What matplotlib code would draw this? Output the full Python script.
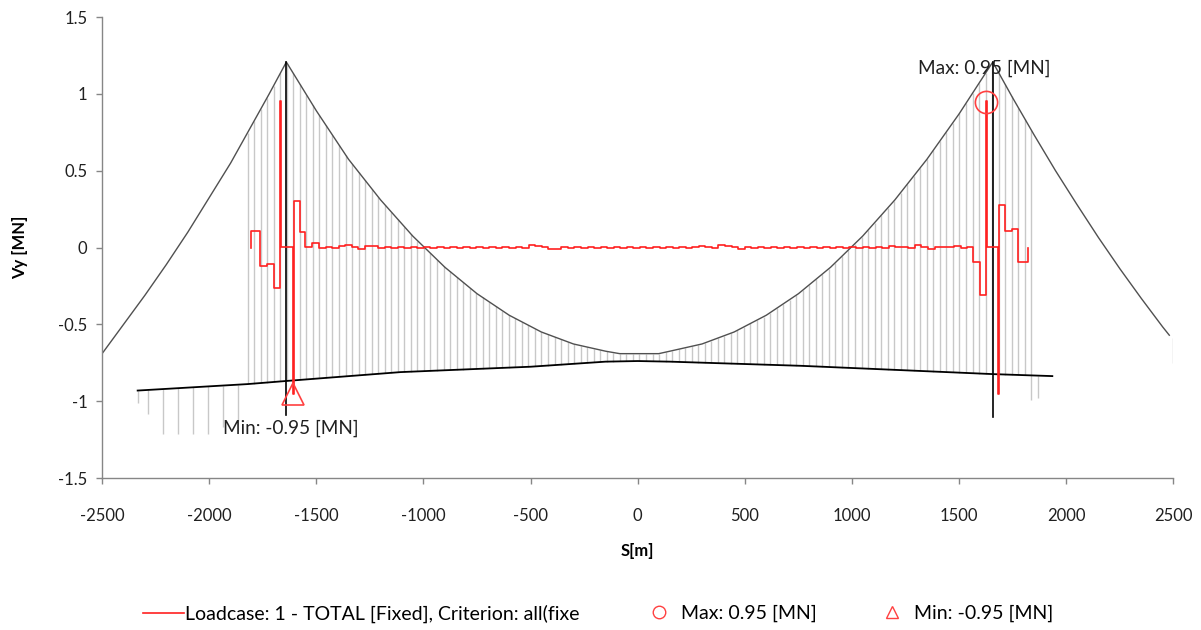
import numpy as np
import matplotlib
matplotlib.use("Agg")
import matplotlib.pyplot as plt
from matplotlib.lines import Line2D

plt.rcParams['font.family'] = ['Lato', 'DejaVu Sans']
plt.rcParams['axes.unicode_minus'] = False

# ---- bridge geometry (S in m, drawn on the Vy scale) ----
# main cable, back spans included, tower tops shared
cable_x = [-2500, -2400, -2300, -2200, -2100, -2000, -1900, -1800, -1720, -1640,
           -1500, -1350, -1200, -1050, -900, -750, -600, -450, -300, -150, -84,
           98, 150, 300, 450, 600, 750, 900, 1050, 1200, 1350, 1500, 1657,
           1750, 1850, 1950, 2050, 2150, 2250, 2350, 2450, 2481]
cable_y = [-0.69, -0.50, -0.31, -0.11, 0.10, 0.325, 0.55, 0.80, 1.00, 1.207,
           0.89, 0.575, 0.31, 0.075, -0.128, -0.30, -0.44, -0.549, -0.627, -0.674, -0.69,
           -0.69, -0.674, -0.627, -0.549, -0.44, -0.30, -0.128, 0.075, 0.31, 0.575, 0.87, 1.207,
           0.974, 0.733, 0.50, 0.28, 0.066, -0.137, -0.33, -0.516, -0.57]

# deck profile
deck_x = [-2334, -1821, -1643, -1107, -500, -150, 0, 150, 761, 1227, 1657, 1935]
deck_y = [-0.93, -0.888, -0.868, -0.81, -0.775, -0.742, -0.738, -0.742, -0.769, -0.797, -0.823, -0.836]

# hangers: evenly spaced between the outermost ones
hanger_first = -1821
hanger_last = 1837
hanger_count = 121

# short posts below the deck
post_x = [-2334, -2287, -2217, -2147, -2077, -2007, -1937, -1867, 1837, 1868]
post_bottom = [-1.01, -1.08, -1.21, -1.21, -1.21, -1.21, -1.17, -1.13, -0.99, -0.98]

# anchor post at the right end
anchor_x = 2500
anchor_y = [-0.59, -0.75]

# towers
tower_x = [-1640, 1657]
tower_top = 1.207
tower_bottom = [-1.09, -1.10]

# ---- shear force Vy [MN], piecewise constant ----
left_edges = [-1806, -1762, -1728, -1697, -1669, -1666, -1611, -1606,
              -1577, -1554, -1518]
left_vals = [0.109, -0.118, -0.110, -0.265, 0.955, 0.005, -0.950, 0.305,
             0.103, 0.005, 0.030]

mid_start = -1487
mid_end = 1538
mid_vals = [0.000, 0.006, 0.000, 0.010, 0.016, 0.004, -0.008, 0.008, 0.008, -0.004,
            0.004, 0.000, 0.006, 0.000, 0.006, 0.000, 0.006, 0.000, 0.006, 0.000,
            0.006, 0.000, 0.006, 0.000, 0.006, 0.000, 0.006, 0.000, 0.006, 0.000,
            0.006, 0.000, 0.016, 0.012, 0.004, -0.008, -0.010, 0.006, 0.000, 0.006,
            0.000, 0.006, 0.000, 0.006, 0.000, 0.006, 0.000, 0.006, 0.000, 0.006,
            0.000, 0.006, 0.000, 0.006, 0.000, 0.006, 0.000, 0.006, 0.010, 0.006,
            0.000, 0.016, 0.010, 0.002, -0.010, 0.006, 0.000, 0.006, 0.000, 0.006,
            0.000, 0.006, 0.000, 0.006, 0.000, 0.006, 0.000, 0.006, 0.000, 0.006,
            0.000, 0.006, 0.000, 0.006, 0.000, 0.006, 0.000, 0.010, 0.004, 0.006,
            0.000, 0.016, 0.006, -0.008, 0.002, 0.006, 0.004, 0.008, 0.000]

right_edges = [1538, 1566, 1597, 1627, 1630, 1681, 1686, 1714, 1748, 1774, 1821]
right_vals = [0.006, -0.096, -0.310, 0.955, 0.005, -0.950, 0.277, 0.107, 0.118, -0.096]

max_s, max_v = 1627, 0.95
min_s, min_v = -1611, -0.95

legend_labels = ["Loadcase: 1 - TOTAL [Fixed], Criterion: all(fixe",
                 "Max: 0.95 [MN]", "Min: -0.95 [MN]"]

x_ticks = [-2500, -2000, -1500, -1000, -500, 0, 500, 1000, 1500, 2000, 2500]
y_ticks = [-1.5, -1, -0.5, 0, 0.5, 1, 1.5]

RED = '#ff2020'
MARK = '#ff4040'


def step_outline(edges, vals, end):
    # turn segment edges + values into a stepped polyline starting/ending at 0
    xs = [edges[0]]
    ys = [0.0]
    bounds = list(edges) + [end]
    for i, v in enumerate(vals):
        xs += [bounds[i], bounds[i + 1]]
        ys += [v, v]
    xs.append(end)
    ys.append(0.0)
    return xs, ys


mid_edges = list(np.linspace(mid_start, mid_end, len(mid_vals) + 1)[:-1])
all_edges = left_edges + mid_edges + right_edges[:-1]
all_vals = left_vals + mid_vals + right_vals
shear_x, shear_y = step_outline(all_edges, all_vals, right_edges[-1])

fig = plt.figure(figsize=(12.01, 6.3), dpi=100)
ax = fig.add_axes([0.085, 0.241, 0.892, 0.732])

# hangers
hx = np.linspace(hanger_first, hanger_last, hanger_count)
h_top = np.interp(hx, cable_x, cable_y)
h_bot = np.interp(hx, deck_x, deck_y)
ax.vlines(hx, h_bot, h_top, colors='#c8c8c8', linewidth=1.0, zorder=1)

# posts below deck
p_top = np.interp(post_x, deck_x, deck_y)
ax.vlines(post_x, post_bottom, p_top, colors='#c8c8c8', linewidth=1.0, zorder=1)
ax.vlines(anchor_x, anchor_y[1], anchor_y[0], colors='#c8c8c8', linewidth=1.0, zorder=1)

# cable and deck
ax.plot(cable_x, cable_y, color='#505050', linewidth=1.0, zorder=2)
ax.plot(deck_x, deck_y, color='black', linewidth=1.3, zorder=2)

# towers
for tx, tb in zip(tower_x, tower_bottom):
    ax.plot([tx, tx], [tower_top, tb], color='black', linewidth=1.2, zorder=3)

# shear diagram with extreme values
ax.plot(shear_x, shear_y, color=RED, linewidth=1.2, zorder=4)
ax.plot([max_s], [max_v], marker='o', markersize=16, mfc='none', mec=MARK,
        mew=1.2, linestyle='none', zorder=5)
ax.plot([min_s], [min_v], marker='^', markersize=16, mfc='none', mec=MARK,
        mew=1.2, linestyle='none', zorder=5)
ax.text(max_s - 12, 1.168, "Max: %.2f [MN]" % max_v, ha='center', va='center',
        fontsize=13.7, color='#202020', zorder=6)
ax.text(min_s - 8, -1.174, "Min: %.2f [MN]" % min_v, ha='center', va='center',
        fontsize=13.7, color='#202020', zorder=6)

ax.set_xlim(-2500, 2500)
ax.set_ylim(-1.5, 1.5)
ax.set_xticks(x_ticks)
ax.set_yticks(y_ticks)
ax.set_yticklabels([('%g' % t) for t in y_ticks])
ax.tick_params(axis='both', direction='out', length=4.5, width=1, color='#868686',
               labelsize=12, labelcolor='#202020')
ax.tick_params(axis='x', pad=17)
ax.tick_params(axis='y', pad=6)
for side in ('top', 'right'):
    ax.spines[side].set_visible(False)
for side in ('left', 'bottom'):
    ax.spines[side].set_color('#868686')
    ax.spines[side].set_linewidth(1.0)

ax.set_xlabel("S[m]", fontsize=12, fontweight='bold', labelpad=14)
ax.set_ylabel("Vy [MN]", fontsize=12, fontweight='bold', labelpad=22)

# legend entries laid out in fixed columns along the bottom
handles = [Line2D([], [], color=RED, linewidth=1.2),
           Line2D([], [], marker='o', markersize=9, mfc='none', mec=MARK,
                  mew=1.0, linestyle='none'),
           Line2D([], [], marker='^', markersize=9, mfc='none', mec=MARK,
                  mew=1.0, linestyle='none')]
col_left = [0.119, 0.532, 0.726]
for h, lab, x0 in zip(handles, legend_labels, col_left):
    fig.legend([h], [lab], loc='center left', bbox_to_anchor=(x0, 0.026),
               frameon=False, fontsize=14, handlelength=2.1, handletextpad=0.05,
               borderpad=0, borderaxespad=0)

fig.savefig("out.png", dpi=100)
